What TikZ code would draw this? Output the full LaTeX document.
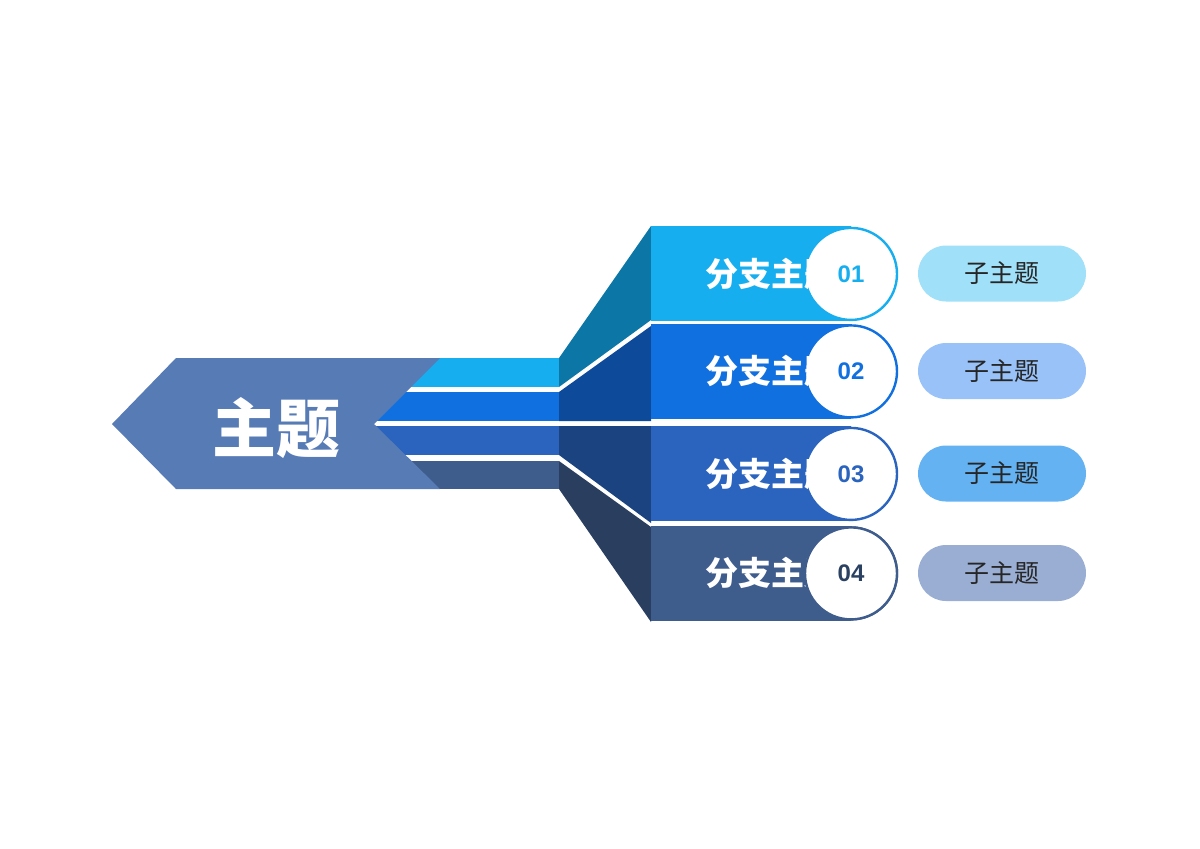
\documentclass[tikz,border=0pt]{standalone}
\usepackage{fontspec}
\newfontfamily\cjk{Noto Sans CJK SC}
\setmainfont{Liberation Sans}
\usetikzlibrary{positioning}
\definecolor{cA}{HTML}{16AEEF}
\definecolor{cB}{HTML}{1170E0}
\definecolor{cC}{HTML}{2A64BE}
\definecolor{cD}{HTML}{3E5C8C}
\definecolor{dA}{HTML}{0C77A6}
\definecolor{dB}{HTML}{0D4A9A}
\definecolor{dC}{HTML}{1B4380}
\definecolor{dD}{HTML}{2A3F5F}
\definecolor{pA}{HTML}{A0E0F8}
\definecolor{pB}{HTML}{98C2F8}
\definecolor{pC}{HTML}{64B2F2}
\definecolor{pD}{HTML}{9AAED4}
\definecolor{mainc}{HTML}{577BB5}
\tikzset{
  bar/.style={rectangle, minimum width=100pt, minimum height=47.5pt, inner sep=0pt, anchor=north west},
  numcirc/.style={circle, draw, line width=1.2pt, fill=white, minimum size=46pt, font=\bfseries\fontsize{12}{12}\selectfont},
  pill/.style={rectangle, rounded corners=14pt, minimum width=84pt, minimum height=28pt, font=\cjk\fontsize{12.5}{12.5}\selectfont, text=black!85},
  brtext/.style={text=white, font=\cjk\bfseries\fontsize{16.5}{16.5}\selectfont}
}
\begin{document}
\begin{tikzpicture}[x=0.5pt, y=-0.5pt]
	\useasboundingbox (0,0) rectangle (1200,848);
	% Strips
	\fill[cA] (370,358) rectangle (559,387);
	\fill[cB] (370,392) rectangle (559,421);
	\fill[cC] (370,426) rectangle (559,455);
	\fill[cD] (370,461) rectangle (559,489);
	% Fans
	\fill[dA] (559,358) -- (651,226) -- (651,320) -- (559,387) -- cycle;
	\fill[dB] (559,392) -- (651,326) -- (651,421) -- (559,421) -- cycle;
	\fill[dC] (559,426) -- (651,426) -- (651,523) -- (559,455) -- cycle;
	\fill[dD] (559,461) -- (651,527) -- (651,622) -- (559,489) -- cycle;
	% Main arrow
	\fill[mainc] (112,424) -- (176,358) -- (440,358) -- (374,424) -- (440,489) -- (176,489) -- cycle;
	\node[text=white, font=\cjk\bfseries\fontsize{32}{32}\selectfont] (main) at (276,428) {主题};
	% Branches
	\foreach \i/\y/\c/\p/\n in {1/226/cA/pA/01, 2/323.5/cB/pB/02, 3/426/cC/pC/03, 4/525.5/cD/pD/04}{
		\node[bar, fill=\c] (bar\i) at (651,\y) {};
		\node[numcirc, draw=\c, text=\c, right=-24pt of bar\i] (num\i) {\n};
		\node[brtext, anchor=center] (br\i) at ([xshift=-40pt]num\i.center) {分支主题};
		\node[pill, fill=\p] (sub\i) at (1002,\y+47.5) {子主题};
	}
	\node[numcirc, draw=cD, text=cD!70!black] at (num4) {04};
\end{tikzpicture}
\end{document}
